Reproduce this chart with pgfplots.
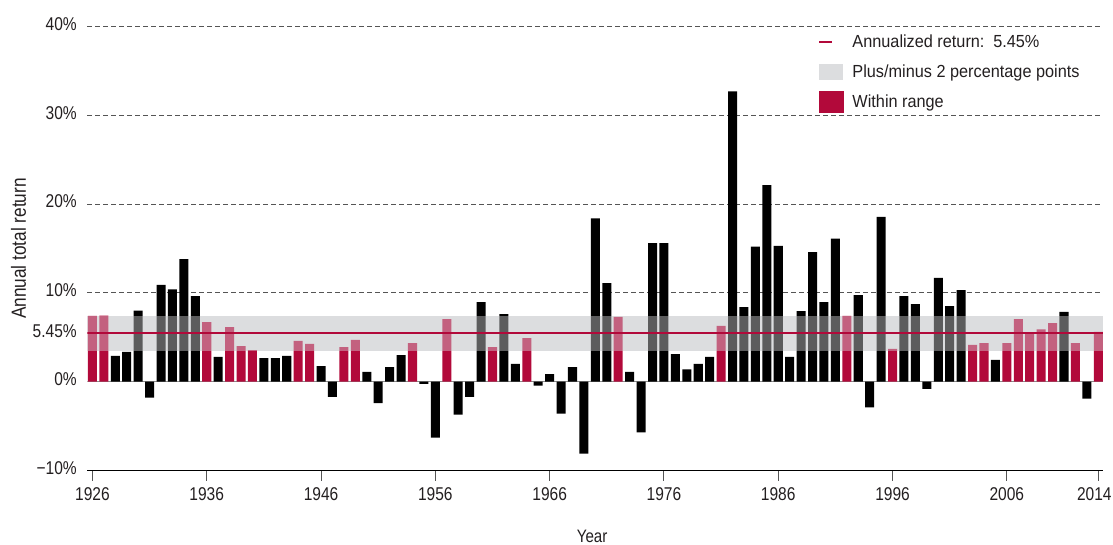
\documentclass[border=0pt]{standalone}
\usepackage{fontspec}
\setmainfont{Liberation Sans}[FakeStretch=0.84]
\newfontfamily\legfont{Liberation Sans}[FakeStretch=0.93]
\usepackage{pgfplots}
\usepackage{pgfplotstable}
\pgfplotsset{compat=1.18}
\definecolor{crim}{HTML}{B2093A}
\definecolor{bandc}{HTML}{DCDDDF}
\definecolor{gridc}{HTML}{555555}
\definecolor{zeroc}{HTML}{8C8C8C}
\definecolor{txt}{HTML}{231F20}
\newcommand\fs{\fontsize{18.5pt}{21pt}\selectfont}
\newcommand\fx{\fontsize{18pt}{21pt}\selectfont}
\newcommand\fl{\fontsize{20.5pt}{24pt}\selectfont}
\newcommand\fg{\legfont\fontsize{17.5pt}{20pt}\selectfont}

% years whose return lies within 5.45% +/- 2 points
\pgfplotstableread{
year ret
1926 7.4
1927 7.45
1936 6.7
1938 6.15
1939 4.0
1940 3.55
1944 4.6
1945 4.25
1948 3.9
1949 4.7
1954 4.35
1957 7.05
1961 3.9
1964 4.9
1972 7.3
1981 6.3
1992 7.4
1996 3.7
2003 4.15
2004 4.35
2006 4.35
2007 7.05
2008 5.5
2009 5.9
2010 6.6
2012 4.35
2014 5.6
}\inside

% years outside the range
\pgfplotstableread{
year ret
1928 2.9
1929 3.35
1930 8.0
1931 -1.8
1932 10.9
1933 10.4
1934 13.8
1935 9.65
1937 2.8
1941 2.65
1942 2.65
1943 2.9
1946 1.75
1947 -1.7
1950 1.1
1951 -2.4
1952 1.65
1953 3.0
1955 -0.25
1956 -6.3
1958 -3.7
1959 -1.7
1960 8.95
1962 7.6
1963 2.0
1965 -0.45
1966 0.85
1967 -3.6
1968 1.65
1969 -8.1
1970 18.4
1971 11.1
1973 1.1
1974 -5.7
1975 15.6
1976 15.6
1977 3.1
1978 1.4
1979 2.0
1980 2.8
1982 32.7
1983 8.4
1984 15.2
1985 22.15
1986 15.3
1987 2.8
1988 7.95
1989 14.6
1990 8.95
1991 16.1
1993 9.75
1994 -2.9
1995 18.55
1997 9.65
1998 8.75
1999 -0.8
2000 11.7
2001 8.5
2002 10.3
2005 2.45
2011 7.85
2013 -1.9
}\outside

\begin{document}
\begin{tikzpicture}
\useasboundingbox (-87.3pt,-73.5pt) rectangle (1025.7pt,470.5pt);
\begin{axis}[
  at={(0pt,0pt)}, anchor=south west,
  width=1015.8pt, height=444pt, scale only axis,
  xmin=1925.55, xmax=2014.42, ymin=-10, ymax=40,
  axis x line*=bottom, axis y line*=left,
  x axis line style={black, line width=1.2pt},
  y axis line style={draw=none},
  xtick={1926,1936,1946,1956,1966,1976,1986,1996,2006,2014},
  xticklabels={1926,1936,1946,1956,1966,1976,1986,1996,2006,\hspace*{-4pt}2014\hspace*{4pt}},
  xtick align=outside, ytick align=inside, major tick length=10pt,
  xtick style={gridc, line width=1pt},
  ytick={10,20,30,40}, yticklabels={10\%,20\%,30\%,40\%},
  extra y ticks={-10,0,5.45}, extra y tick labels={−10\%,0\%,5.45\%},
  extra y tick style={grid=none},
  ytick style={draw=none},
  ymajorgrids,
  major grid style={gridc, line width=0.9pt, dash pattern=on 4.5pt off 3.5pt},
  tick label style={font=\fs, text=txt},
  yticklabel style={xshift=-7pt, yshift=2.5pt},
  xticklabel style={yshift=-4pt},
  /pgf/number format/assume math mode=true,
  xlabel={Year}, ylabel={Annual total return},
  xlabel style={font=\fx, text=txt, at={(axis description cs:0.497,-0.1475)}, anchor=center},
  ylabel style={font=\fl, text=txt, at={(axis description cs:-0.0676,0.5)}, anchor=center},
  legend style={at={(0.7193,0.9887)}, anchor=north west, draw=none, fill=none,
    inner sep=0pt, row sep=9pt, font=\fg, text=txt,
    nodes={inner sep=0pt, text height=16pt, text depth=4.5pt},
    /tikz/every odd column/.append style={column sep=9pt}},
  legend cell align=left,
]
% grey band (opaque, below bars)
\addplot[fill=bandc, draw=none, forget plot] coordinates
  {(1925.55,3.45) (2014.42,3.45) (2014.42,7.45) (1925.55,7.45)} -- cycle;
% zero line
\addplot[zeroc, line width=1.3pt, forget plot] coordinates {(1925.55,0) (2014.42,0)};
% bars
\addplot[ybar, bar width=0.79, bar shift=0pt, fill=black, draw=none, forget plot]
  table[x=year, y=ret] {\outside};
\addplot[ybar, bar width=0.79, bar shift=0pt, fill=crim, draw=none, forget plot]
  table[x=year, y=ret] {\inside};
% band overlay (translucent, on top of bars)
\addplot[fill=bandc, fill opacity=0.42, draw=none, forget plot] coordinates
  {(1925.55,3.45) (2014.42,3.45) (2014.42,7.45) (1925.55,7.45)} -- cycle;
% annualized return line
\addplot[crim, line width=2.2pt, forget plot] coordinates {(1925.55,5.45) (2014.42,5.45)};

\addlegendimage{legend image code/.code={\draw[crim, line width=2.2pt] (0pt,0pt) -- (13pt,0pt);}}
\addlegendentry{Annualized return:\enspace 5.45\%}
\addlegendimage{legend image code/.code={\fill[bandc] (0pt,-7.5pt) rectangle (23pt,7.5pt);}}
\addlegendentry{Plus/minus 2 percentage points}
\addlegendimage{legend image code/.code={\fill[crim] (0pt,-10.5pt) rectangle (24pt,10.5pt);}}
\addlegendentry{Within range}
\end{axis}
\end{tikzpicture}
\end{document}
